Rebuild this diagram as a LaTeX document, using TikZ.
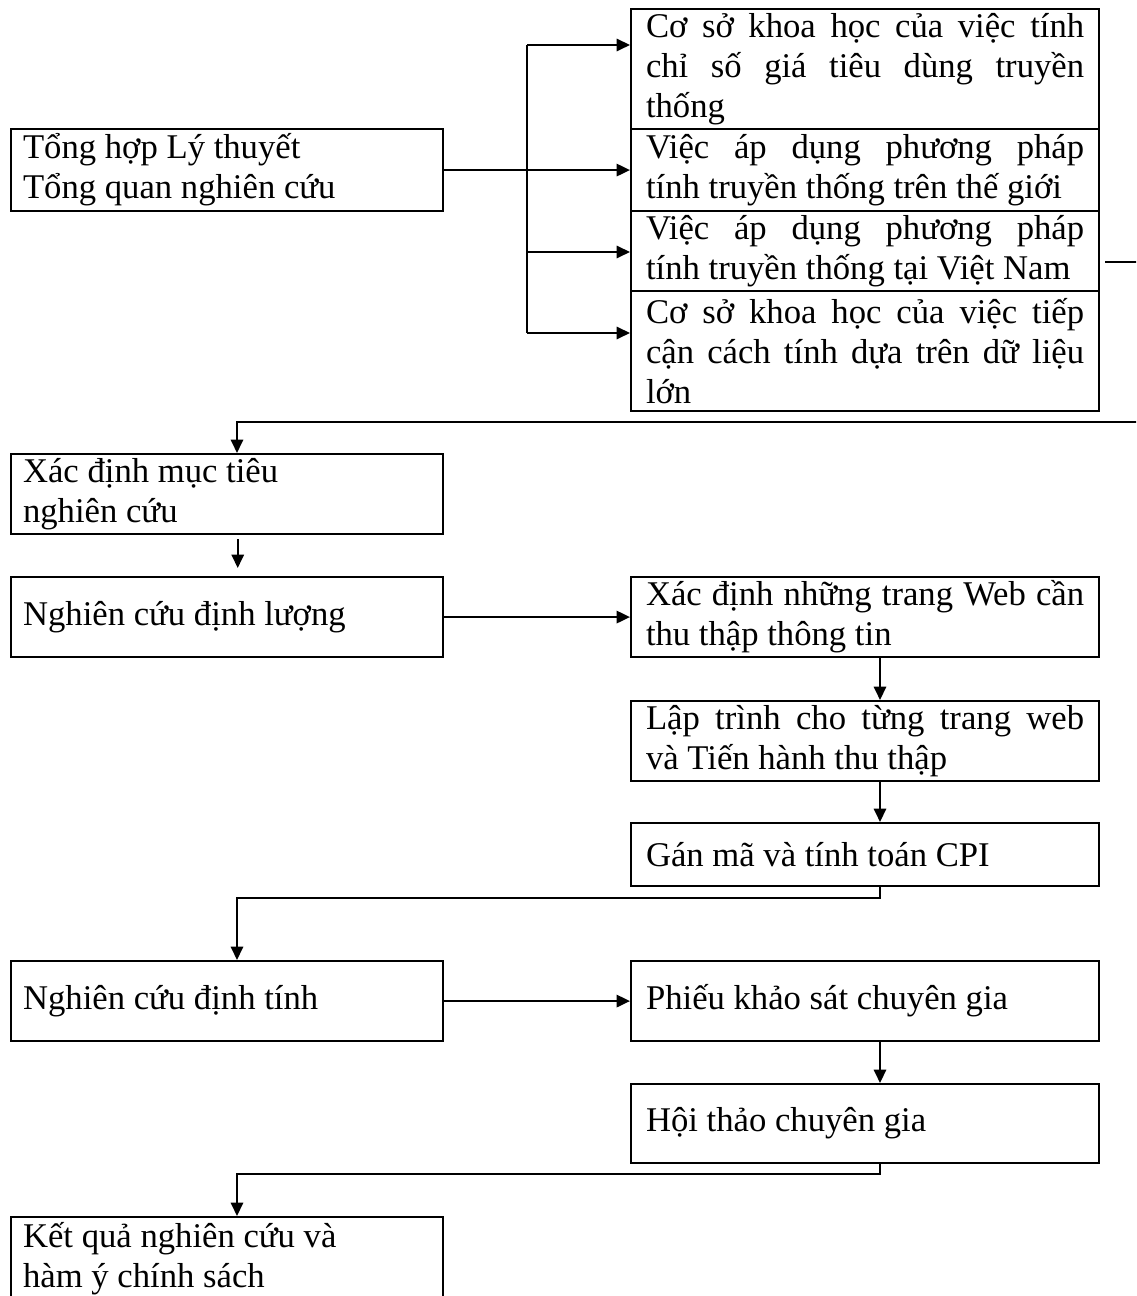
\documentclass[tikz,border=0pt]{standalone}
\usepackage{fontspec}
\setmainfont{Liberation Serif}
\usetikzlibrary{arrows.meta,positioning,calc}

\tikzset{
  box/.style={draw,line width=0.8pt,anchor=north west,inner ysep=0.5pt,font=\fontsize{13}{15}\selectfont},
  lbox/.style={box,inner xsep=4.5pt,text width=153pt,align=flush left},
  rbox/.style={box,inner xsep=5.6pt,text width=164.3pt,align=justify},
  arr/.style={line width=0.8pt,-{Triangle[length=5pt,width=4.6pt]}},
  ln/.style={line width=0.8pt}
}

\begin{document}
\begin{tikzpicture}[x=0.375pt,y=-0.375pt]
      \useasboundingbox (0,0) rectangle (1136,1296);
      \clip (0,0) rectangle (1136,1296);

      \coordinate (busA) at (527,45);
      \coordinate (busC) at (527,252);
      \coordinate (busD) at (527,333);
      \coordinate (outC) at (1105,262);
      \coordinate (loopR) at (1170,262);
      \coordinate (loopT) at (237,422);
      \coordinate (lowA) at (237,898);
      \coordinate (lowB) at (237,1174);

      \node[lbox,minimum height=30.75pt] (tonghop) at (10,128) {Tổng hợp Lý thuyết\\Tổng quan nghiên cứu};
      \node[rbox,minimum height=45pt] (csA) at (630,8) {Cơ sở khoa học của việc tính\linebreak chỉ số giá tiêu dùng truyền\linebreak thống};
      \node[rbox,minimum height=30.75pt] (tgB) at (630,128) {Việc áp dụng phương pháp\linebreak tính truyền thống trên thế giới};
      \node[rbox,minimum height=30pt] (vnC) at (630,210) {Việc áp dụng phương pháp\linebreak tính truyền thống tại Việt Nam};
      \node[rbox,minimum height=45pt] (dlD) at (630,290) {Cơ sở khoa học của việc tiếp\linebreak cận cách tính dựa trên dữ liệu\linebreak lớn};

      \node[lbox,minimum height=30pt] (muctieu) at (10,453) {Xác định mục tiêu\\nghiên cứu};
      \node[lbox,minimum height=30pt] (dinhluong) at (10,576) {Nghiên cứu định lượng};
      \node[rbox,minimum height=30pt] (web) at (630,576) {Xác định những trang Web cần\linebreak thu thập thông tin};
      \node[rbox,minimum height=30pt] (laptrinh) at (630,700) {Lập trình cho từng trang web\linebreak và Tiến hành thu thập};
      \node[rbox,minimum height=23.6pt] (cpi) at (630,822) {Gán mã và tính toán CPI};
      \node[lbox,minimum height=30pt] (dinhtinh) at (10,960) {Nghiên cứu định tính};
      \node[rbox,minimum height=30pt] (phieu) at (630,960) {Phiếu khảo sát chuyên gia};
      \node[rbox,minimum height=29.6pt] (hoithao) at (630,1083) {Hội thảo chuyên gia};
      \node[lbox,minimum height=31.5pt] (ketqua) at (10,1216) {Kết quả nghiên cứu và\\hàm ý chính sách};

      \draw[ln] (busA) -- (busD);
      \draw[arr] (busA) -- (busA -| csA.west);
      \draw[arr] (tonghop.east) -- (tgB.west);
      \draw[arr] (busC) -- (busC -| vnC.west);
      \draw[arr] (busD) -- (busD -| dlD.west);
      \draw[arr] (outC) -- (loopR) |- (loopT) -- (loopT |- muctieu.north);

      \draw[arr] ([xshift=4pt,yshift=-1.5pt]muctieu.south) -- ([xshift=4pt,yshift=3pt]dinhluong.north);
      \draw[arr] (dinhluong.east) -- (web.west);
      \draw[arr] ([xshift=5.6pt]web.south) -- ([xshift=5.6pt]laptrinh.north);
      \draw[arr] ([xshift=5.6pt]laptrinh.south) -- ([xshift=5.6pt]cpi.north);
      \draw[arr] ([xshift=5.6pt]cpi.south) |- (lowA) -- (lowA |- dinhtinh.north);
      \draw[arr] (dinhtinh.east) -- (phieu.west);
      \draw[arr] ([xshift=5.6pt]phieu.south) -- ([xshift=5.6pt]hoithao.north);
      \draw[arr] ([xshift=5.6pt]hoithao.south) |- (lowB) -- (lowB |- ketqua.north);

    \end{tikzpicture}
\end{document}
